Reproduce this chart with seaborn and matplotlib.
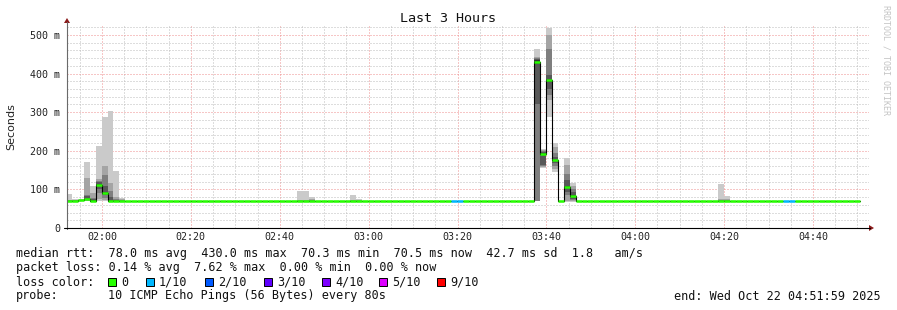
import numpy as np
import pandas as pd
import matplotlib
matplotlib.use("Agg")
import matplotlib.pyplot as plt
from matplotlib.patches import Rectangle, Polygon
from matplotlib.lines import Line2D
from matplotlib.ticker import MultipleLocator, FixedLocator
import seaborn as sns

# ---------------- data ----------------
# time axis in minutes after midnight; one RRD step = 80 s
first_step_min = 111.92          # 01:51:55
step_seconds = 80

# median RTT (ms) for each 80 s step, 01:51:55 .. 04:50:35
median_ms = [
    71.0, 71.0, 71.5, 75.0, 71.0, 111.0, 91.0, 70.5, 70.5, 70.5,
    70.5, 70.5, 70.5, 70.5, 70.5, 70.5, 70.5, 70.5, 70.5, 70.5,
    70.5, 70.5, 70.5, 70.5, 70.5, 70.5, 70.5, 70.5, 70.5, 70.5,
    70.5, 70.5, 70.5, 70.5, 70.5, 70.5, 70.5, 70.5, 70.5, 70.5,
    70.5, 70.5, 70.5, 70.5, 70.5, 70.5, 70.5, 70.5, 70.5, 70.5,
    70.5, 70.5, 70.5, 70.5, 70.5, 70.5, 70.5, 70.5, 70.5, 70.5,
    70.5, 70.5, 70.5, 70.5, 70.5, 70.5, 70.5, 70.5, 70.5, 70.5,
    70.5, 70.5, 70.5, 70.5, 70.5, 70.5, 70.5, 70.5, 70.5, 430.0,
    192.0, 382.0, 175.0, 71.0, 106.0, 84.0, 70.5, 70.5, 70.5, 70.5,
    70.5, 70.5, 70.5, 70.5, 70.5, 70.5, 70.5, 70.5, 70.5, 70.5,
    70.5, 70.5, 70.5, 70.5, 70.5, 70.5, 70.5, 70.5, 70.5, 70.5,
    70.5, 70.5, 70.5, 70.5, 70.5, 70.5, 70.5, 70.5, 70.5, 70.5,
    70.5, 70.5, 70.5, 70.5, 70.5, 70.5, 70.5, 70.5, 70.5, 70.5,
    70.5, 70.5, 70.5, 70.5,
]

# steps with packet loss (lost pings out of 10)
loss_steps = [65, 66, 121, 122]
loss_counts = [1, 1, 1, 1]

# smoke: sorted 10 ping RTTs (ms) for steps with visible spread
smoke_steps = [0, 1, 2, 3, 4, 5, 6, 7, 8, 9, 39, 40, 41, 48, 49,
               79, 80, 81, 82, 84, 85, 110, 111]
smoke_pings = [
    [70, 70, 70, 70, 71, 71, 71, 72, 73, 88],
    [70, 70, 70, 71, 71, 71, 71, 72, 72, 74],
    [70, 70, 70, 71, 71, 72, 72, 72, 73, 74],
    [70, 71, 73, 74, 75, 76, 83, 86, 130, 172],
    [69, 70, 70, 70, 71, 72, 74, 78, 91, 109],
    [70, 75, 90, 102, 110, 113, 118, 122, 127, 212],
    [70, 72, 78, 85, 89, 93, 110, 137, 160, 288],
    [68, 69, 70, 70, 70, 71, 80, 97, 117, 303],
    [69, 70, 70, 70, 70, 71, 72, 75, 81, 148],
    [69, 70, 70, 70, 70, 70, 71, 72, 74, 78],
    [70, 70, 70, 70, 70, 71, 71, 71, 72, 96],
    [70, 70, 70, 70, 70, 71, 71, 71, 72, 96],
    [70, 70, 70, 70, 70, 71, 71, 72, 74, 81],
    [70, 70, 70, 70, 70, 71, 71, 71, 72, 85],
    [70, 70, 70, 70, 70, 71, 71, 71, 72, 75],
    [70, 70, 70, 322, 425, 435, 438, 440, 443, 463],
    [156, 158, 160, 163, 190, 194, 197, 200, 203, 205],
    [288, 331, 344, 360, 378, 386, 396, 464, 499, 518],
    [145, 152, 160, 168, 173, 177, 185, 195, 210, 220],
    [68, 70, 85, 92, 103, 108, 124, 141, 163, 181],
    [68, 70, 72, 75, 82, 86, 92, 100, 108, 116],
    [70, 70, 70, 70, 70, 71, 71, 72, 74, 114],
    [70, 70, 70, 70, 70, 71, 71, 72, 74, 83],
]

tick_minutes = [120, 140, 160, 180, 200, 220, 240, 260, 280]
tick_labels = ["02:00", "02:20", "02:40", "03:00", "03:20",
               "03:40", "04:00", "04:20", "04:40"]
y_ticks = [0, 100, 200, 300, 400, 500]
y_tick_labels = ["0", "100 m", "200 m", "300 m", "400 m", "500 m"]

loss_labels = ["0", "1/10", "2/10", "3/10", "4/10", "5/10", "9/10"]
loss_colors = ["#26ff00", "#00b8ff", "#0059ff", "#5e00ff", "#7e00ff", "#dd00ff", "#ff0000"]
smoke_grays = ["#cacaca", "#a4a4a4", "#7e7e7e", "#585858", "#323232"]

stat_rows = [
    "median rtt:  78.0 ms avg  430.0 ms max  70.3 ms min  70.5 ms now  42.7 ms sd  1.8   am/s",
    "packet loss: 0.14 % avg  7.62 % max  0.00 % min  0.00 % now",
]
probe_text = "10 ICMP Echo Pings (56 Bytes) every 80s"
end_text = "end: Wed Oct 22 04:51:59 2025"

# ---------------- figure ----------------
sns.set_theme(style="white")
plt.rcParams["font.family"] = ["DejaVu Sans Mono", "DejaVu Sans"]
MONO = "DejaVu Sans Mono"

W, H = 897, 310
fig = plt.figure(figsize=(W / 100, H / 100), dpi=100)
fig.patch.set_facecolor("white")

def fx(x):
    return x / W

def fy(y):
    return 1 - y / H

L, R, T, B = 67, 869, 26, 228
ax = fig.add_axes([fx(L), fy(B), (R - L) / W, (B - T) / H])
ax.set_facecolor("white")

step_min = step_seconds / 60.0
n = len(median_ms)
starts = first_step_min + np.arange(n) * step_min

# grid
ax.set_xlim(112.125, 292.6)
ax.set_ylim(0, 523)
ax.xaxis.set_major_locator(FixedLocator(tick_minutes))
ax.xaxis.set_minor_locator(MultipleLocator(5))
ax.yaxis.set_major_locator(FixedLocator(y_ticks))
ax.yaxis.set_minor_locator(MultipleLocator(20))
ax.set_xticklabels(tick_labels)
ax.set_yticklabels(y_tick_labels)
ax.grid(which="minor", color="#bdbdbd", linestyle=(0, (1, 2)), linewidth=0.72)
ax.grid(which="major", color="#ee8f8f", linestyle=(0, (1, 2)), linewidth=0.72)
ax.set_axisbelow(True)
ax.tick_params(axis="both", which="major", length=2, width=0.7, color="#606060",
               labelsize=7.2, labelcolor="#222222", direction="inout")
ax.tick_params(axis="x", which="major", pad=2)
ax.tick_params(axis="y", which="major", pad=4)
ax.tick_params(axis="both", which="minor", length=0)
for s in ax.spines.values():
    s.set_visible(False)

# smoke
smoke_start = [starts[k] for k in smoke_steps]
for band in range(5):
    lows = [p[band] for p in smoke_pings]
    highs = [p[9 - band] for p in smoke_pings]
    ax.bar(smoke_start, np.array(highs) - np.array(lows), bottom=lows,
           width=step_min, align="edge", color=smoke_grays[band],
           linewidth=0, antialiased=False, zorder=2)

# median black step line
df = pd.DataFrame({"t": list(starts) + [starts[-1] + step_min],
                   "median": median_ms + [median_ms[-1]]})
sns.lineplot(data=df, x="t", y="median", drawstyle="steps-post", color="black",
             linewidth=0.8, estimator=None, ax=ax, zorder=3)

# loss-coloured median band
loss = np.zeros(n, dtype=int)
for s_, c_ in zip(loss_steps, loss_counts):
    loss[s_] = c_
color_map = {0: 0, 1: 1, 2: 2, 3: 3, 4: 4, 5: 5, 9: 6}
seg_colors = [loss_colors[color_map.get(l, 6)] for l in loss]
ax.hlines(median_ms, starts, starts + step_min, colors=seg_colors,
          linewidth=1.8, zorder=4, capstyle="butt")

ax.set_xlabel("")
ax.set_ylabel("")

# axes lines and arrows (figure pixel coords)
fig.add_artist(Line2D([fx(L), fx(L)], [fy(B + 1), fy(22)], color="#6a6a6a", lw=0.8))
fig.add_artist(Line2D([fx(L - 3), fx(870)], [fy(B), fy(B)], color="black", lw=0.8))
fig.add_artist(Polygon([[fx(L - 3), fy(23)], [fx(L + 3), fy(23)], [fx(L), fy(18)]],
                       closed=True, color="#8b1a1a", lw=0))
fig.add_artist(Polygon([[fx(869), fy(B - 3)], [fx(869), fy(B + 3)], [fx(874), fy(B)]],
                       closed=True, color="#8b1a1a", lw=0))

# titles
fig.text(fx(448), fy(19), "Last 3 Hours", ha="center", va="center",
         fontsize=9.6, family=MONO, color="#111111")
fig.text(fx(11), fy(127), "Seconds", rotation=90, ha="center", va="center",
         fontsize=8, family="DejaVu Sans", color="#222222")
fig.text(fx(886), fy(60), "RRDTOOL / TOBI OETIKER", rotation=270, ha="center",
         va="center", fontsize=6.0, family=MONO, color="#c4c4c4")

# legend / stats
fs = 8.5
fig.text(fx(16), fy(254), stat_rows[0], ha="left", va="center", fontsize=fs, family=MONO, color="#111111")
fig.text(fx(16), fy(268), stat_rows[1], ha="left", va="center", fontsize=fs, family=MONO, color="#111111")
fig.text(fx(16), fy(282), "loss color:", ha="left", va="center", fontsize=fs, family=MONO, color="#111111")
box_x = [108, 146, 205, 264, 322, 379, 437]
for bx, lab, col in zip(box_x, loss_labels, loss_colors):
    fig.add_artist(Rectangle((fx(bx), fy(286)), 8 / W, 8 / H, facecolor=col,
                             edgecolor="black", lw=0.7))
    fig.text(fx(bx + 13), fy(282), lab, ha="left", va="center", fontsize=fs,
             family=MONO, color="#111111")
fig.text(fx(16), fy(296), "probe:", ha="left", va="center", fontsize=fs, family=MONO, color="#111111")
fig.text(fx(108), fy(296), probe_text, ha="left", va="center", fontsize=fs, family=MONO, color="#111111")
fig.text(fx(881), fy(296), end_text, ha="right", va="center", fontsize=fs, family=MONO, color="#111111")

fig.savefig("out.png", dpi=100, facecolor="white")
